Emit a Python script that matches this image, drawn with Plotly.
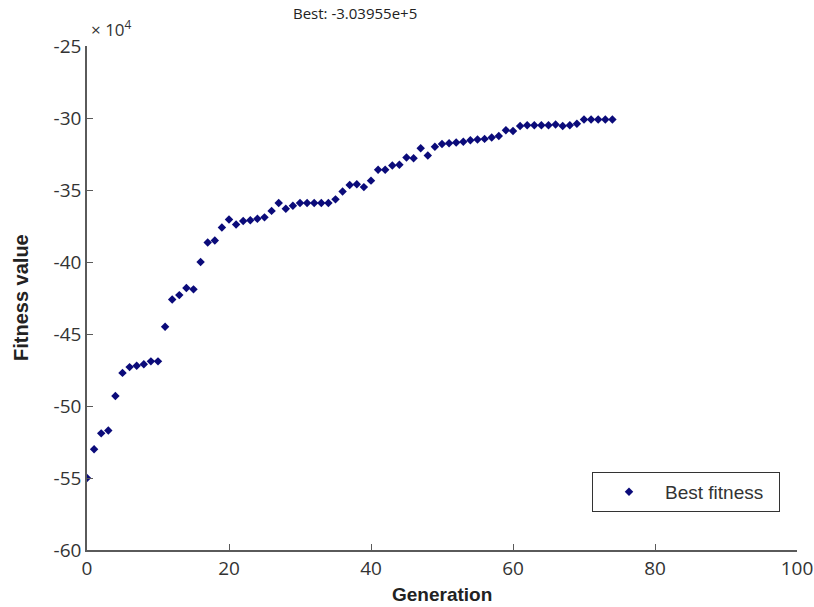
import plotly.graph_objects as go

generation = list(range(0, 75))
best_fitness_e4 = [
    -55.0, -53.0, -51.9, -51.7, -49.3,
    -47.7, -47.3, -47.2, -47.1, -46.9, -46.9,
    -44.5, -42.6, -42.3, -41.8, -41.9, -40.0,
    -38.65, -38.5, -37.6, -37.05, -37.4, -37.15, -37.1, -37.0, -36.9,
    -36.45, -35.9, -36.3, -36.1,
    -35.9, -35.9, -35.9, -35.9, -35.9,
    -35.65, -35.1, -34.65, -34.6, -34.8, -34.35,
    -33.6, -33.6, -33.3, -33.25, -32.75, -32.8, -32.1, -32.6,
    -32.0, -31.8, -31.75, -31.7, -31.65, -31.55, -31.5, -31.45, -31.35, -31.25,
    -30.85, -30.9,
    -30.55, -30.5, -30.5, -30.5, -30.5, -30.45, -30.55, -30.5, -30.4,
    -30.1, -30.1, -30.1, -30.1, -30.1,
]
x_ticks = [0, 20, 40, 60, 80, 100]
y_ticks = [-60, -55, -50, -45, -40, -35, -30, -25]
title_text = "Best: -3.03955e+5"
series_name = "Best fitness"

W, H = 814, 607
L, T = 87, 46
R = W - 797
B = H - 550
plot_w = W - L - R
plot_h = H - T - B


def px_x(px):
    return (px - L) / plot_w


def px_y(py):
    return (H - B - py) / plot_h


axis_color = "#5a5a5a"
tick_font = dict(family="Open Sans", size=19, color="#333333")

fig = go.Figure()
fig.add_trace(go.Scatter(
    x=generation, y=best_fitness_e4, mode="markers", name=series_name + "\u00a0\u00a0",
    marker=dict(symbol="diamond", size=6.5, color="#0b0b7a"),
))

fig.update_layout(
    width=W, height=H,
    margin=dict(l=L, r=R, t=T, b=B, autoexpand=False),
    paper_bgcolor="white", plot_bgcolor="white",
    showlegend=True,
    legend=dict(
        x=px_x(592), y=px_y(472), xanchor="left", yanchor="top",
        bordercolor="#333333", borderwidth=1, bgcolor="white",
        font=dict(family="Liberation Sans", size=19, color="#333333"),
        itemwidth=62,
    ),
    annotations=[
        dict(text=title_text, x=px_x(355), y=px_y(13), xref="paper", yref="paper",
             xanchor="center", yanchor="middle", showarrow=False,
             font=dict(family="Open Sans", size=15, color="#222222")),
        dict(text="× 10<sup>4</sup>", x=px_x(89), y=px_y(29), xref="paper", yref="paper",
             xanchor="left", yanchor="middle", showarrow=False,
             font=dict(family="Open Sans", size=17, color="#333333")),
        dict(text="<b>Generation</b>", x=px_x(442), y=px_y(594), xref="paper", yref="paper",
             xanchor="center", yanchor="middle", showarrow=False,
             font=dict(family="Liberation Sans", size=19, color="#222222")),
        dict(text="<b>Fitness value</b>", x=px_x(21), y=px_y(298), xref="paper", yref="paper",
             xanchor="center", yanchor="middle", showarrow=False, textangle=-90,
             font=dict(family="Liberation Sans", size=20, color="#222222")),
    ],
)

fig.update_xaxes(
    range=[0, 100], tickvals=x_ticks, ticktext=[str(v) for v in x_ticks],
    showline=True, linecolor=axis_color, linewidth=1.5,
    ticks="inside", ticklen=6, tickcolor=axis_color,
    showgrid=False, zeroline=False, tickfont=tick_font, automargin=False,
)
fig.update_yaxes(
    range=[-60, -25], tickvals=y_ticks, ticktext=[str(v) for v in y_ticks],
    showline=True, linecolor=axis_color, linewidth=1.5,
    ticks="inside", ticklen=6, tickcolor=axis_color,
    showgrid=False, zeroline=False, tickfont=tick_font, automargin=False,
)

fig.write_html(
    "out.html",
    config={"displayModeBar": False},
    post_script="document.body.style.margin='0';document.body.style.overflow='hidden';",
)
